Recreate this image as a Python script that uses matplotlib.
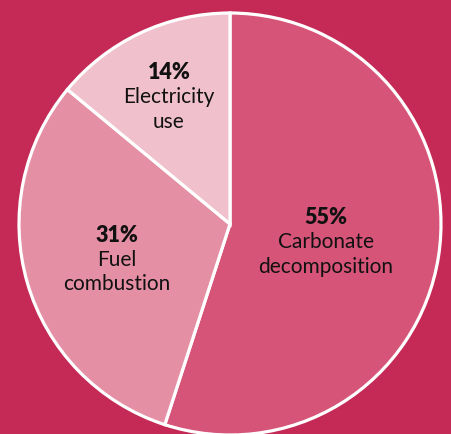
import matplotlib
matplotlib.use("Agg")
import matplotlib.pyplot as plt
import numpy as np

categories = ["Carbonate\ndecomposition", "Fuel\ncombustion", "Electricity\nuse"]
shares = [55, 31, 14]
colors = ["#D75479", "#E58FA5", "#F0C0CC"]
label_dist = [0.46, 0.56, 0.68]

bg = "#C42A55"
W, H = 451, 435
fig = plt.figure(figsize=(W / 100, H / 100), dpi=100, facecolor=bg)
ax = fig.add_axes([0, 0, 1, 1])
ax.set_facecolor(bg)

R = 211.0
cx, cy = 230.0, 225.0
wedges, _ = ax.pie(shares, colors=colors, startangle=90, counterclock=False,
                   radius=1.0, center=(0, 0),
                   wedgeprops=dict(edgecolor="white", linewidth=2.3))
ax.set_xlim(-cx / R, (W - cx) / R)
ax.set_ylim(-(H - cy) / R, cy / R)
ax.set_aspect("equal")
ax.axis("off")

fam = ["Lato", "DejaVu Sans"]
step = 24.5 / R
for w, cat, val, d in zip(wedges, categories, shares, label_dist):
    ang = np.deg2rad((w.theta1 + w.theta2) / 2)
    x, y = d * np.cos(ang), d * np.sin(ang)
    lines = cat.split("\n")
    ax.text(x, y + step, f"{val}%", ha="center", va="center_baseline", fontsize=15.5,
            fontweight="heavy", family=fam, color="#111111")
    for i, ln in enumerate(lines):
        ax.text(x, y - i * step, ln, ha="center", va="center_baseline", fontsize=15,
                family=fam, color="#111111")

fig.savefig("out.png", dpi=100, facecolor=bg)
